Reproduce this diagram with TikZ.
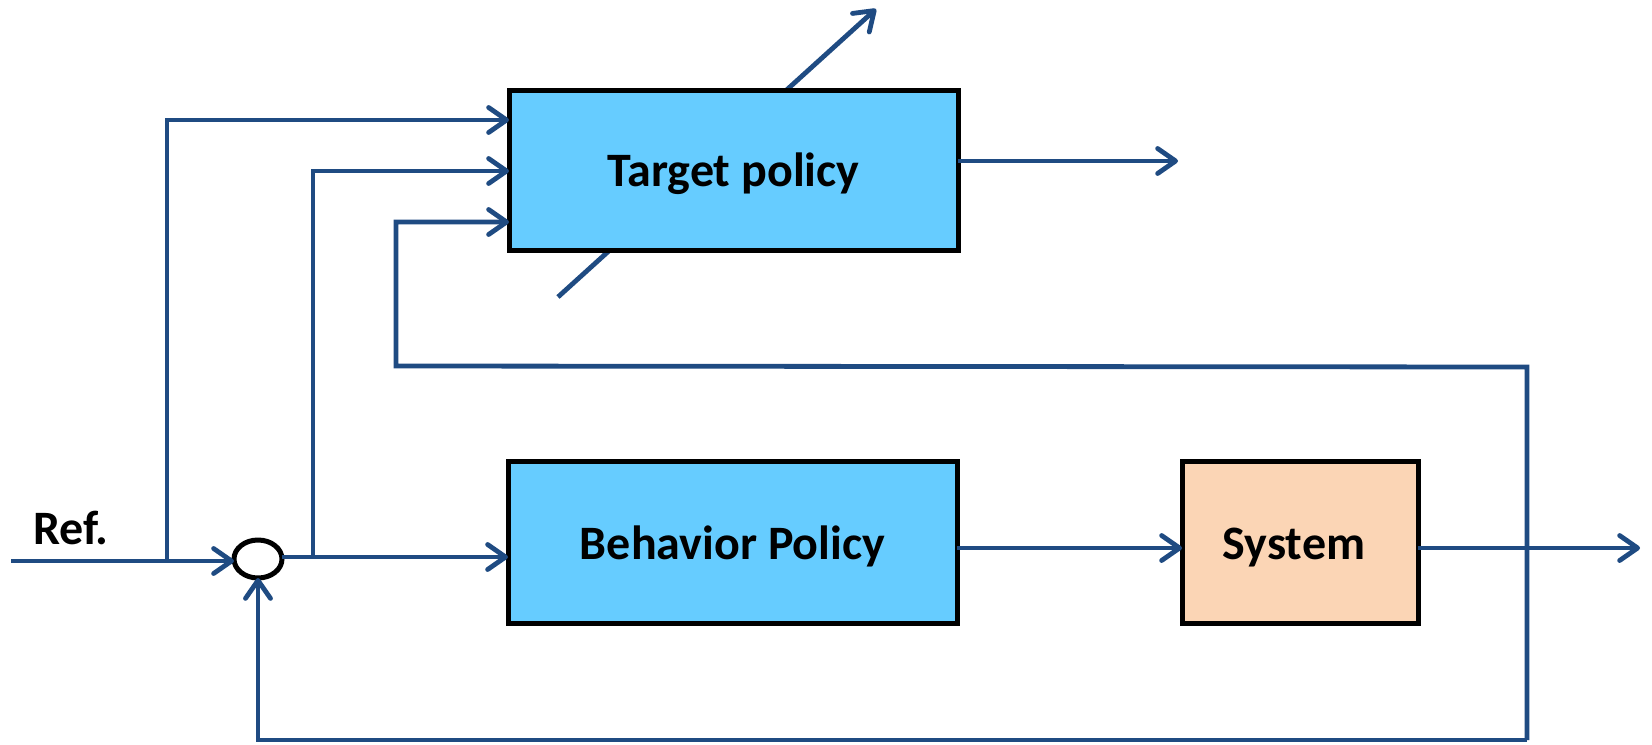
\documentclass[tikz,border=0pt]{standalone}
\usepackage{fontspec}
\setmainfont{Carlito}
\usetikzlibrary{arrows.meta,shapes.geometric}
\definecolor{lineblue}{RGB}{31,75,130}
\definecolor{boxblue}{RGB}{102,204,255}
\definecolor{peach}{RGB}{251,213,181}
\newcommand{\lowered}[2]{\raisebox{#1}[\height][\depth]{#2}}
\begin{document}
\begin{tikzpicture}[x=0.5pt,y=-0.5pt,
  blk/.style={draw=black,line width=2.5pt,outer sep=0pt,inner sep=0pt,
    font=\bfseries\fontsize{24}{29}\selectfont},
  conn/.style={draw=lineblue,line width=2.4pt},
  arr/.style={conn,-{Straight Barb[length=9pt,width=12.5pt,round]}},
  lbl/.style={font=\bfseries\fontsize{24}{29}\selectfont,inner sep=0pt}]
\useasboundingbox (0,0) rectangle (1652,744);
% diagonal adjustment arrow behind target policy
\coordinate (dg1) at (558,297);
\coordinate (dg2) at (876,9);
\draw[arr] (dg1) -- (dg2);
% blocks
\node[blk,fill=boxblue,minimum width=224.5pt,minimum height=80pt] (tp) at (733.5,170) {\lowered{-2pt}{Target policy}};
\node[blk,fill=boxblue,minimum width=224.5pt,minimum height=81pt] (bp) at (732.5,542) {\lowered{-2pt}{Behavior Policy}};
\node[blk,fill=peach,minimum width=118pt,minimum height=81pt] (sys) at (1300,542) {\hspace*{-6pt}\lowered{-3pt}{System}};
\node[ellipse,draw=black,line width=2.5pt,minimum width=24pt,minimum height=19pt,inner sep=0pt,outer sep=0pt] (circ) at (258,559) {};
\node[lbl] (ref) at (71,528) {Ref.};
% level coordinates
\coordinate (y1) at (0,120);
\coordinate (y2) at (0,171);
\coordinate (y3) at (0,222);
\coordinate (y4) at (0,548);
\coordinate (y5) at (0,161);
\coordinate (refs) at (11,561);
\coordinate (j1) at (167,561);
\coordinate (j2) at (313,557);
\coordinate (fb1) at (396,366);
\coordinate (fbr) at (1527,367);
\coordinate (fbb) at (1527,740);
\coordinate (fbl) at (258,740);
\coordinate (sysout) at (1640,548);
\coordinate (tpout) at (1178,161);
% connectors
\draw[arr] (refs) -- (refs -| circ.west);
\draw[arr] (j1) |- (y1 -| tp.west);
\draw[arr] (circ.east |- j2) -- (bp.west |- j2);
\draw[arr] (j2) |- (y2 -| tp.west);
\draw[arr] (fbb) -- (fbr) -- (fb1) |- (y3 -| tp.west);
\draw[arr] (fbb) -- (fbl) -- (circ.south);
\draw[arr] (bp.east |- y4) -- (sys.west |- y4);
\draw[arr] (sys.east |- y4) -- (sysout);
\draw[arr] (tp.east |- y5) -- (tpout);
\end{tikzpicture}
\end{document}
